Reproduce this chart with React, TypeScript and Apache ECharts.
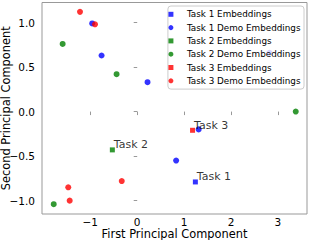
import React, { useEffect, useRef } from "react";
import * as echarts from "echarts";

const task1Emb = [[1.24, -0.79]];
const task1Demo = [[-0.96, 0.99], [-0.76, 0.63], [0.22, 0.33], [1.31, -0.2], [0.83, -0.55], [2.82, 0.66]];
const task2Emb = [[-0.53, -0.43]];
const task2Demo = [[-1.59, 0.76], [-0.44, 0.42], [3.38, 0.0], [-1.78, -1.04]];
const task3Emb = [[1.18, -0.21]];
const task3Demo = [[-1.22, 1.12], [-0.9, 0.98], [-0.33, -0.78], [-1.47, -0.85], [-1.44, -1.0]];

const xTicks = [-1, 0, 1, 2, 3];
const yTicks = [-1, -0.5, 0, 0.5, 1];
const taskLabels = ["Task 1", "Task 2", "Task 3"];

const FONT = "DejaVu Sans";
const SQUARE = "path://M0,0H10V10H0Z";
const fmtMinus = (s: string) => s.replace("-", "\u2212");

export default function App() {
  const ref = useRef<HTMLDivElement>(null);
  useEffect(() => {
    const chart = echarts.init(ref.current!, undefined, { renderer: "svg" });
    const embLabel = (text: string) => ({
      show: true,
      formatter: text,
      position: "right",
      distance: 0,
      offset: [-1, -5],
      color: "#000",
      fontFamily: FONT,
      fontSize: 11,
    });
    chart.setOption({
      animation: false,
      grid: {
        left: 42, right: 2, top: 2.5, bottom: 26,
        containLabel: false, outerBoundsMode: "none",
        show: true, borderColor: "#999", borderWidth: 1,
      },
      xAxis: {
        type: "value",
        min: -2.03,
        max: 3.62,
        splitLine: { show: false },
        axisLine: { show: false },
        axisTick: { show: true, length: 3.5, lineStyle: { color: "#999" }, customValues: xTicks },
        axisLabel: {
          customValues: xTicks,
          formatter: (v: number) => fmtMinus(String(v)),
          color: "#000",
          fontFamily: FONT,
          fontSize: 10.5,
          margin: 2.5,
        },
        name: "First Principal Component",
        nameLocation: "middle",
        nameGap: 14,
        nameMoveOverlap: false,
        nameTextStyle: { color: "#000", fontFamily: FONT, fontSize: 11.4 },
      },
      yAxis: {
        type: "value",
        min: -1.15,
        max: 1.225,
        splitLine: { show: false },
        axisLine: { show: false },
        axisTick: { show: true, length: 3.5, lineStyle: { color: "#999" }, customValues: yTicks },
        axisLabel: {
          customValues: yTicks,
          formatter: (v: number) => fmtMinus(v.toFixed(1)),
          color: "#000",
          fontFamily: FONT,
          fontSize: 10.5,
          margin: 7,
        },
        name: "Second Principal Component",
        nameLocation: "middle",
        nameGap: 31,
        nameMoveOverlap: false,
        nameTextStyle: { color: "#000", fontFamily: FONT, fontSize: 11.4 },
      },
      legend: {
        orient: "vertical",
        right: 5,
        top: 6,
        padding: [2.8, 3.5, 2.8, 0.5],
        itemGap: 2.3,
        itemWidth: 22,
        itemHeight: 5,
        symbolKeepAspect: true,
        backgroundColor: "rgba(255,255,255,0.8)",
        borderColor: "#cccccc",
        borderWidth: 1,
        borderRadius: 3,
        textStyle: { color: "#000", fontFamily: FONT, fontSize: 8.8, lineHeight: 11 },
        data: [
          { name: "Task 1 Embeddings", icon: SQUARE },
          { name: "Task 1 Demo Embeddings", icon: "circle" },
          { name: "Task 2 Embeddings", icon: SQUARE },
          { name: "Task 2 Demo Embeddings", icon: "circle" },
          { name: "Task 3 Embeddings", icon: SQUARE },
          { name: "Task 3 Demo Embeddings", icon: "circle" },
        ],
      },
      series: [
        { name: "Task 1 Embeddings", type: "scatter", symbol: "rect", symbolSize: 5, itemStyle: { color: "#0000ff" }, data: task1Emb, label: embLabel(taskLabels[0]) },
        { name: "Task 1 Demo Embeddings", type: "scatter", symbol: "circle", symbolSize: 6, itemStyle: { color: "#0000ff" }, data: task1Demo },
        { name: "Task 2 Embeddings", type: "scatter", symbol: "rect", symbolSize: 5, itemStyle: { color: "#008000" }, data: task2Emb, label: embLabel(taskLabels[1]) },
        { name: "Task 2 Demo Embeddings", type: "scatter", symbol: "circle", symbolSize: 6, itemStyle: { color: "#008000" }, data: task2Demo },
        { name: "Task 3 Embeddings", type: "scatter", symbol: "rect", symbolSize: 5, itemStyle: { color: "#ff0000" }, data: task3Emb, label: embLabel(taskLabels[2]) },
        { name: "Task 3 Demo Embeddings", type: "scatter", symbol: "circle", symbolSize: 6, itemStyle: { color: "#ff0000" }, data: task3Demo },
      ],
    });
    return () => chart.dispose();
  }, []);
  return <div ref={ref} style={{ position: "absolute", left: 0, top: 0, width: 309, height: 240 }} />;
}
